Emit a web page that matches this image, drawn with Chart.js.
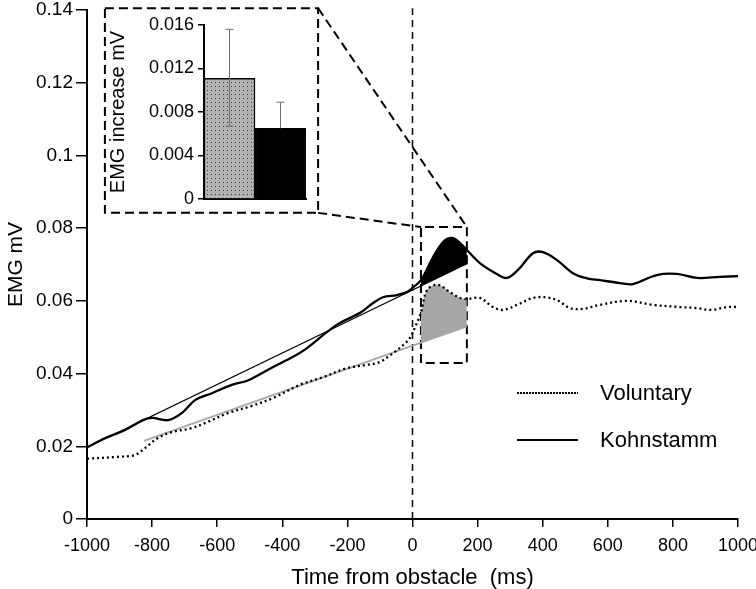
<!DOCTYPE html>
<html>
<head>
<meta charset="utf-8">
<script src="https://cdn.jsdelivr.net/npm/chart.js@4.4.1/dist/chart.umd.min.js"></script>
<style>
  html, body { margin: 0; padding: 0; background: #fff; }
  #wrap { position: relative; width: 756px; height: 589px; font-family: Arial, "Liberation Sans", sans-serif; }
  #main { position: absolute; left: 0; top: 0; }
  #inset { position: absolute; left: 106px; top: 9px; }
  .sample { position: absolute; left: 517px; width: 61px; }
  .dots { top: 392px; height: 2px; background: repeating-linear-gradient(to right, #000 0 1.6px, transparent 1.6px 3px); }
  .solid { top: 439px; height: 2px; background: #000; }
  .key { position: absolute; left: 600px; font-size: 22px; line-height: 22px; color: #000; }
</style>
</head>
<body>
<div id="wrap">
  <canvas id="main" width="756" height="589"></canvas>
  <canvas id="inset" width="210" height="202"></canvas>
  <div class="sample dots"></div>
  <div class="key" style="top:382px">Voluntary</div>
  <div class="sample solid"></div>
  <div class="key" style="top:429px">Kohnstamm</div>
</div>
<script>
// Kohnstamm trace (ms, mV)
const kohnTime = [-1000, -945, -883, -828, -800, -751, -708, -668, -616, -555, -506, -428, -367, -324, -263,
  -223, -161, -121, -91, -48, -17, 0, 26, 63, 94, 121, 146, 167, 207, 259,
  290, 324, 370, 401, 444, 493, 536, 576, 637, 677, 750, 812, 874, 944, 1000];
const kohnEmg = [0.0197, 0.0222, 0.0245, 0.0272, 0.0278, 0.0272, 0.0292, 0.0327, 0.0346, 0.0369, 0.0381, 0.0418, 0.0446, 0.0470, 0.0514,
  0.0539, 0.0567, 0.0594, 0.0610, 0.0616, 0.0624, 0.0636, 0.0657, 0.0720, 0.0762, 0.0773, 0.0759, 0.0740, 0.0704, 0.0674,
  0.0663, 0.0685, 0.0731, 0.0734, 0.0712, 0.0676, 0.0662, 0.0657, 0.0649, 0.0646, 0.0671, 0.0674, 0.0663, 0.0666, 0.0668];

// Voluntary trace (ms, mV)
const volTime = [-1000, -905, -853, -822, -782, -739, -678, -629, -568, -494, -428, -346, -275, -201, -140,
  -100, -60, -29, -8, 8, 26, 45, 78, 115, 146, 167, 207, 247, 278, 321,
  370, 407, 444, 484, 524, 576, 659, 739, 822, 874, 920, 966, 1000];
const volEmg = [0.0166, 0.0171, 0.0176, 0.0195, 0.0223, 0.0239, 0.0250, 0.0267, 0.0291, 0.0311, 0.0333, 0.0369, 0.0390, 0.0415, 0.0424,
  0.0432, 0.0456, 0.0478, 0.0498, 0.0528, 0.0568, 0.0630, 0.0644, 0.0624, 0.0608, 0.0605, 0.0608, 0.0583, 0.0575, 0.0589,
  0.0608, 0.0610, 0.0602, 0.0580, 0.0578, 0.0589, 0.0600, 0.0589, 0.0583, 0.0580, 0.0575, 0.0583, 0.0583];

// linear trends (baselines)
const kohnBaseTime = [-1000, 167];
const kohnBaseEmg = [0.0197, 0.0702];
const volBaseTime = [-825, 167];
const volBaseEmg = [0.0215, 0.0530];

// window that the inset summarises
const windowMs = [26, 167];
const windowMv = [0.0429, 0.0803];

// inset bars
const insetCategories = ['Voluntary', 'Kohnstamm'];
const insetIncrease = [0.0111, 0.0065];
const insetErrPlus = [0.0045, 0.0024];
const insetErrMinus = [0.0044, 0];

const FONT = 'Arial, "Liberation Sans", sans-serif';
Chart.defaults.font.family = FONT;
Chart.defaults.color = '#000';

const pts = (xs, ys) => xs.map((x, i) => ({ x: x, y: ys[i] }));
const inWindow = p => p.x >= windowMs[0] && p.x <= windowMs[1];

// inset frame and connectors, in main-chart units
const insetFrame = [{ x: -945, y: 0.1405 }, { x: -290, y: 0.1405 }, { x: -290, y: 0.0842 }, { x: -945, y: 0.0842 }, { x: -945, y: 0.1405 }];
const windowFrame = [
  { x: windowMs[0], y: windowMv[0] }, { x: windowMs[0], y: windowMv[1] },
  { x: windowMs[1], y: windowMv[1] }, { x: windowMs[1], y: windowMv[0] }, { x: windowMs[0], y: windowMv[0] }
];

const plain = { pointRadius: 0, fill: false, tension: 0 };
const dashBox = Object.assign({}, plain, { borderColor: '#000', borderWidth: 2, borderDash: [9, 5], clip: false });

new Chart(document.getElementById('main'), {
  type: 'line',
  data: {
    datasets: [
      Object.assign({}, plain, { label: 'Kohnstamm', data: pts(kohnTime, kohnEmg), borderColor: '#000', borderWidth: 2.3, tension: 0.35 }),
      Object.assign({}, plain, { label: 'Voluntary', data: pts(volTime, volEmg), borderColor: '#000', borderWidth: 2.3, borderDash: [2, 3], tension: 0.35 }),
      Object.assign({}, plain, { data: pts(kohnBaseTime, kohnBaseEmg), borderColor: '#000', borderWidth: 1.3 }),
      Object.assign({}, plain, { data: pts(volBaseTime, volBaseEmg), borderColor: '#a8a8a8', borderWidth: 1.8 }),
      Object.assign({}, plain, { data: pts(kohnTime, kohnEmg).filter(inWindow), borderWidth: 0, borderColor: 'rgba(0,0,0,0)', backgroundColor: '#000', fill: 2, tension: 0.35 }),
      Object.assign({}, plain, { data: pts(volTime, volEmg).filter(inWindow), borderWidth: 0, borderColor: 'rgba(0,0,0,0)', backgroundColor: '#a6a6a6', fill: 3, tension: 0.35 }),
      Object.assign({}, plain, { data: [{ x: 0, y: 0 }, { x: 0, y: 0.1405 }], borderColor: '#000', borderWidth: 1.5, borderDash: [7, 5], clip: false }),
      Object.assign({}, dashBox, { data: windowFrame }),
      Object.assign({}, dashBox, { data: insetFrame }),
      Object.assign({}, dashBox, { data: [insetFrame[2], windowFrame[1]] }),
      Object.assign({}, dashBox, { data: [insetFrame[1], windowFrame[2]] })
    ]
  },
  options: {
    responsive: false,
    animation: false,
    layout: { padding: { top: 10, right: 18, left: 0, bottom: 0 } },
    plugins: { legend: { display: false }, tooltip: { enabled: false } },
    scales: {
      x: {
        type: 'linear', min: -1000, max: 1000,
        ticks: { stepSize: 200, autoSkip: false, maxRotation: 0, padding: 8, font: { size: 18 }, callback: v => String(v) },
        grid: { drawOnChartArea: false, drawTicks: true, tickLength: 8, color: '#000', lineWidth: 1.5 },
        border: { display: true, color: '#000', width: 2 },
        title: { display: true, text: 'Time from obstacle  (ms)', font: { size: 22, lineHeight: 1 }, padding: { top: 0, bottom: 0 } },
        afterFit: s => { s.height = 70; s.paddingLeft = 0; s.paddingRight = 0; }
      },
      y: {
        min: 0, max: 0.14,
        ticks: { stepSize: 0.02, padding: 3, font: { size: 19 }, callback: v => String(Math.round(v * 100) / 100) },
        grid: { drawOnChartArea: false, drawTicks: true, tickLength: 11, color: '#000', lineWidth: 1.5 },
        border: { display: true, color: '#000', width: 2 },
        title: { display: true, text: 'EMG mV', font: { size: 21 } },
        afterFit: s => { s.width = 87; s.paddingTop = 0; s.paddingBottom = 0; }
      }
    }
  }
});

// stippled grey fill for the inset
const tile = document.createElement('canvas');
tile.width = 4; tile.height = 4;
const tctx = tile.getContext('2d');
tctx.fillStyle = '#b2b2b2'; tctx.fillRect(0, 0, 4, 4);
tctx.fillStyle = '#333'; tctx.fillRect(1, 1, 1, 1);
const stipple = tctx.createPattern(tile, 'repeat');

const errorBars = {
  id: 'errorBars',
  afterDatasetsDraw(chart) {
    const ctx = chart.ctx;
    const y = chart.scales.y;
    const meta = chart.getDatasetMeta(0);
    ctx.save();
    ctx.strokeStyle = '#6e6e6e';
    ctx.lineWidth = 1;
    meta.data.forEach((bar, i) => {
      const v = insetIncrease[i];
      const top = y.getPixelForValue(v + insetErrPlus[i]);
      const bot = y.getPixelForValue(v - insetErrMinus[i]);
      ctx.beginPath();
      ctx.moveTo(bar.x, top); ctx.lineTo(bar.x, bot);
      ctx.moveTo(bar.x - 4, top); ctx.lineTo(bar.x + 4, top);
      if (insetErrMinus[i] > 0) { ctx.moveTo(bar.x - 4, bot); ctx.lineTo(bar.x + 4, bot); }
      ctx.stroke();
    });
    ctx.restore();
  }
};

new Chart(document.getElementById('inset'), {
  type: 'bar',
  data: {
    labels: insetCategories,
    datasets: [{
      data: insetIncrease,
      backgroundColor: [stipple, '#000'],
      borderColor: '#000',
      borderWidth: { top: 1.5, left: 1.5, right: 1.5, bottom: 0 },
      categoryPercentage: 1, barPercentage: 1
    }]
  },
  options: {
    responsive: false,
    animation: false,
    layout: { padding: { top: 16, right: 10, bottom: 12, left: 0 } },
    plugins: { legend: { display: false }, tooltip: { enabled: false } },
    scales: {
      x: {
        ticks: { display: false },
        grid: { display: false },
        border: { display: true, color: '#000', width: 2 },
        afterFit: s => { s.height = 0; }
      },
      y: {
        min: 0, max: 0.016,
        ticks: { stepSize: 0.004, padding: 4, font: { size: 18 }, callback: v => String(Math.round(v * 1000) / 1000) },
        grid: { drawOnChartArea: false, drawTicks: true, tickLength: 6, color: '#000', lineWidth: 1.5 },
        border: { display: true, color: '#000', width: 2 },
        title: { display: true, text: 'EMG increase mV', font: { size: 20 }, padding: { top: 0, bottom: 0 } },
        afterFit: s => { s.width = 98; s.paddingTop = 0; s.paddingBottom = 0; }
      }
    }
  },
  plugins: [errorBars]
});
</script>
</body>
</html>
